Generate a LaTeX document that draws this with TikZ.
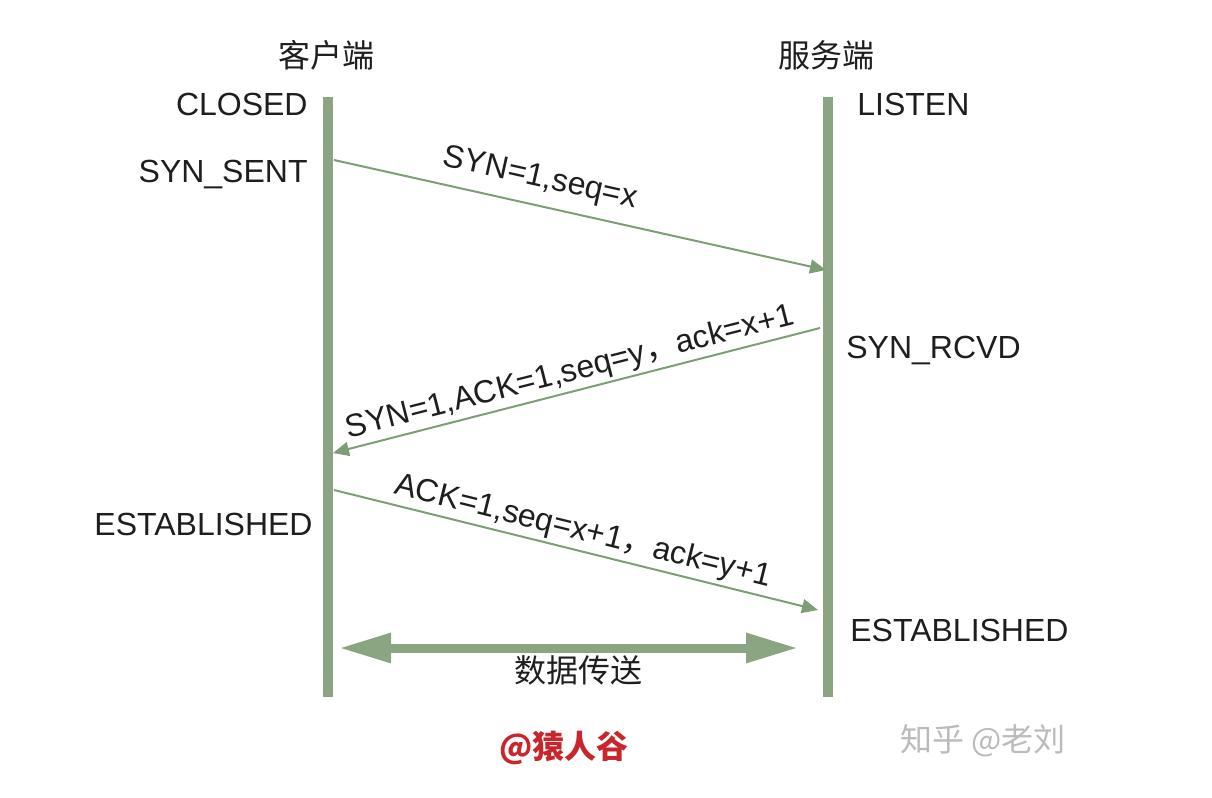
\documentclass[tikz,border=0pt]{standalone}
\usepackage{fontspec}
\setmainfont{Liberation Sans}
\newfontfamily\cjk{Noto Sans CJK SC}
\usetikzlibrary{arrows.meta}
\definecolor{lifegreen}{HTML}{8BA583}
\definecolor{msggreen}{HTML}{7E9E76}
\definecolor{txt}{HTML}{1E1E1E}
\definecolor{wmred}{HTML}{C8262B}
\definecolor{wmgray}{HTML}{BBBBBB}
\begin{document}
\begin{tikzpicture}[x=0.5pt,y=-0.5pt,
  every node/.style={inner sep=0pt,text=txt,font=\fontsize{16}{19}\selectfont},
  lifeline/.style={draw=lifegreen,line width=4.6pt},
  msg/.style={draw=msggreen,line width=1pt,-{Triangle[length=8pt,width=7pt]}},
  datalink/.style={draw=lifegreen,line width=4.5pt,{Triangle[length=26pt,width=14pt]}-{Triangle[length=26pt,width=14pt]}},
  statelbl/.style={},
  msglbl/.style={}]
\useasboundingbox[fill=white] (0,0) rectangle (1212,798);
% lifelines
\coordinate (ltop) at (328,97);
\coordinate (lbot) at (328,697);
\coordinate (rtop) at (828,97);
\coordinate (rbot) at (828,697);
\draw[lifeline] (ltop) -- (lbot);
\draw[lifeline] (rtop) -- (rbot);
% headers
\node (client) at (326,55) {\cjk 客户端};
\node (server) at (826,55) {\cjk 服务端};
% states
\node[statelbl,anchor=east] (closed) at (308,104) {CLOSED};
\node[statelbl,anchor=east] (synsent) at (308,175) {SYN\_SENT};
\node[statelbl,anchor=east] (estc) at (313,524) {ESTABLISHED};
\node[statelbl,anchor=west] (listen) at (857,104) {LISTEN};
\node[statelbl,anchor=west] (synrcvd) at (846,351) {SYN\_RCVD};
\node[statelbl,anchor=west] (ests) at (850,630) {ESTABLISHED};
% messages
\coordinate (c1) at (334,160);
\coordinate (s1) at (826,270);
\coordinate (s2) at (820,328);
\coordinate (c2) at (333,453);
\coordinate (c3) at (334,490);
\coordinate (s3) at (818,610);
\draw[msg] (c1) -- (s1);
\draw[msg] (s2) -- (c2);
\draw[msg] (c3) -- (s3);
\node[msglbl,rotate=-12.6] (m1) at (540,179) {SYN=1,seq=x};
\node[msglbl,rotate=14.3] (m2) at (570,373) {SYN=1,ACK=1,seq=y{\cjk ，}ack=x+1};
\node[msglbl,rotate=-13.9] (m3) at (583,532) {ACK=1,seq=x+1{\cjk ，}ack=y+1};
% data transfer
\coordinate (dl) at (339,648);
\coordinate (dr) at (798,648);
\draw[datalink] (dl) -- (dr);
\node (data) at (578,670) {\cjk 数据传送};
% watermarks
\node (wm1) at (564,748) {\textcolor{wmred}{\cjk\bfseries @猿人谷}};
\node (wm2) at (983,741) {\textcolor{wmgray}{\cjk 知乎 @老刘}};
\end{tikzpicture}
\end{document}
